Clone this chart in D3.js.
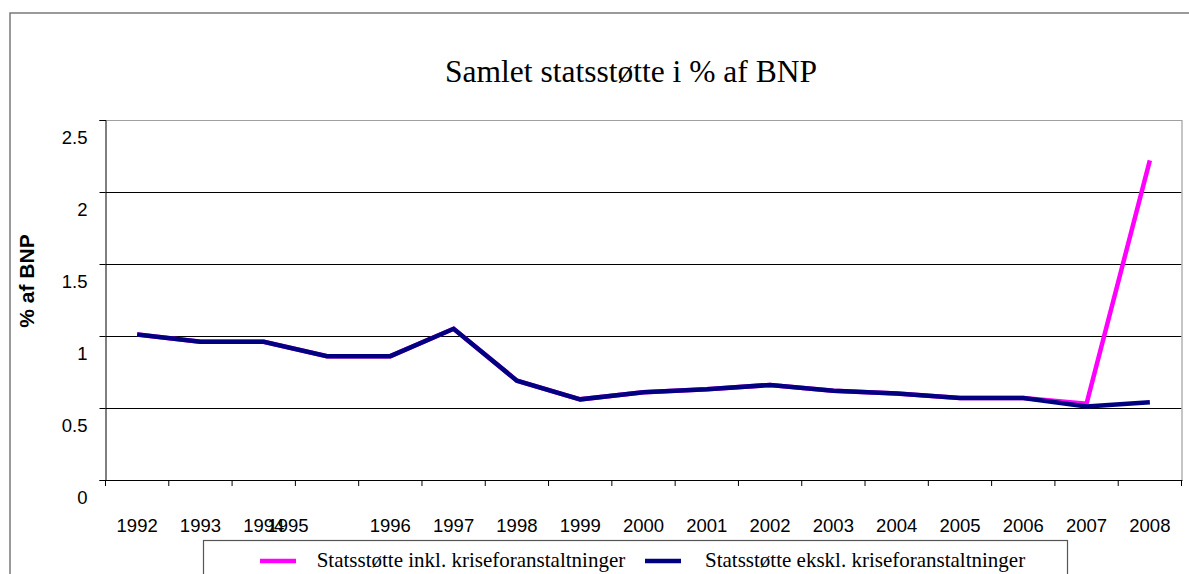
<!DOCTYPE html>
<html><head><meta charset="utf-8">
<script src="https://cdn.jsdelivr.net/npm/d3@7"></script>
<style>body{margin:0;background:#fff;overflow:hidden}</style>
</head><body>
<svg id="chart" width="1189" height="574"></svg>
<script>
const years = ["1992","1993","1994","1995","1996","1997","1998","1999","2000","2001","2002","2003","2004","2005","2006","2007","2008"];
const inklValues = [1.01,0.96,0.96,0.86,0.86,1.05,0.69,0.56,0.61,0.63,0.66,0.62,0.60,0.57,0.57,0.53,2.22];
const ekslValues = [1.01,0.96,0.96,0.86,0.86,1.05,0.69,0.56,0.61,0.63,0.66,0.62,0.60,0.57,0.57,0.51,0.54];
const yTicks = [0,0.5,1,1.5,2,2.5];
const yTickLabels = ["0","0.5","1","1.5","2","2.5"];
const chartTitle = "Samlet statsstøtte i % af BNP";
const yTitle = "% af BNP";
const seriesNames = ["Statsstøtte inkl. kriseforanstaltninger","Statsstøtte ekskl. kriseforanstaltninger"];
const seriesColors = ["#FF00FF","#000080"];

const svg = d3.select("#chart");
const plot = {left:105.5, right:1181.5, top:120, bottom:480};

// outer frame
svg.append("rect").attr("x",10).attr("y",13).attr("width",1300).attr("height",700)
  .attr("fill","#fff").attr("stroke","#7a7a7a").attr("stroke-width",1.5);

const x = d3.scaleBand().domain(years).range([plot.left, plot.right]).padding(0);
const y = d3.scaleLinear().domain([0,2.5]).range([plot.bottom, plot.top]);
const cx = d => x(d) + x.bandwidth()/2;

// title
svg.append("text").attr("x",631).attr("y",82).attr("text-anchor","middle")
  .attr("font-family","'Liberation Serif','Times New Roman',serif").attr("font-size",30.5)
  .attr("textLength",372).attr("lengthAdjust","spacingAndGlyphs")
  .attr("fill","#000").text(chartTitle);

// gridlines
svg.append("g").selectAll("line").data(yTicks.filter(v=>v>0 && v<2.5)).join("line")
  .attr("x1",plot.left).attr("x2",plot.right)
  .attr("y1",d=>y(d)+0.5).attr("y2",d=>y(d)+0.5)
  .attr("stroke","#000").attr("stroke-width",1);
// top and right plot border
svg.append("path").attr("d",`M${plot.left},${y(2.5)+0.5}H${plot.right+0.5}V${plot.bottom}`)
  .attr("fill","none").attr("stroke","#a0a0a0").attr("stroke-width",1.2);

// y axis
const yAxis = d3.axisLeft(y).tickValues(yTicks).tickFormat((d,i)=>yTickLabels[i]).tickSize(6).tickPadding(12);
const gy = svg.append("g").attr("transform",`translate(${plot.left},0)`).call(yAxis);
gy.select(".domain").attr("stroke","#000");
gy.selectAll(".tick line").attr("stroke","#000");
gy.selectAll(".tick text").attr("font-family","'Liberation Sans',Arial,sans-serif")
  .attr("font-size",18.5).attr("fill","#000").attr("dy","1.25em");

// x axis: ticks at category boundaries
const gx = svg.append("g");
gx.append("line").attr("x1",plot.left).attr("x2",plot.right+1).attr("y1",plot.bottom+0.5).attr("y2",plot.bottom+0.5).attr("stroke","#000");
const bounds = years.map(d=>x(d)).concat([x(years[years.length-1])+x.bandwidth()]);
gx.selectAll("line.tk").data(bounds).join("line").attr("class","tk")
  .attr("x1",d=>d).attr("x2",d=>d).attr("y1",plot.bottom).attr("y2",plot.bottom+6).attr("stroke","#000");
const labelNudge = {"1995": -39};
gx.selectAll("text").data(years).join("text")
  .attr("x",d=>cx(d)+(labelNudge[d]||0)).attr("y",532).attr("text-anchor","middle")
  .attr("font-family","'Liberation Sans',Arial,sans-serif").attr("font-size",18.5).attr("fill","#000")
  .text(d=>d);

// y title
svg.append("text").attr("transform","translate(33.5,281) rotate(-90)").attr("text-anchor","middle")
  .attr("font-family","'Liberation Sans',Arial,sans-serif").attr("font-size",21).attr("font-weight","bold")
  .attr("fill","#000").text(yTitle);

// lines
const line = d3.line().x((d,i)=>cx(years[i])).y(d=>y(d));
[inklValues, ekslValues].forEach((vals,k)=>{
  svg.append("path").datum(vals).attr("d",line).attr("fill","none")
    .attr("stroke",seriesColors[k]).attr("stroke-width",4.5).attr("stroke-linejoin","miter");
});

// legend
const lg = svg.append("g");
lg.append("rect").attr("x",203.5).attr("y",540.5).attr("width",864).attr("height",80)
  .attr("fill","#fff").attr("stroke","#555").attr("stroke-width",1.2);
const legendItems = [{sx:260, tx:316.7},{sx:645, tx:705}];
legendItems.forEach((it,k)=>{
  lg.append("line").attr("x1",it.sx).attr("x2",it.sx+36).attr("y1",561).attr("y2",561)
    .attr("stroke",seriesColors[k]).attr("stroke-width",4.5);
  lg.append("text").attr("x",it.tx).attr("y",567).attr("font-family","'Liberation Serif','Times New Roman',serif")
    .attr("font-size",21).attr("fill","#000").text(seriesNames[k]);
});
</script>
</body></html>
